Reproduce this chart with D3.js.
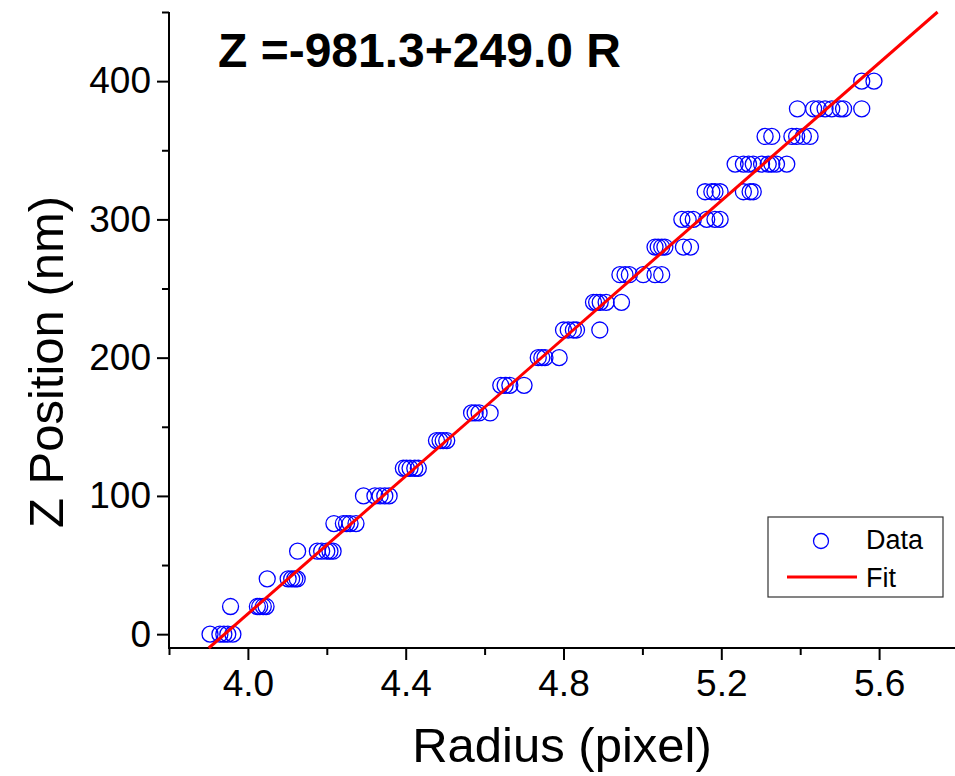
<!DOCTYPE html>
<html lang="en">
<head>
  <meta charset="utf-8" />
  <title>Z Position vs Radius</title>
  <script type="text/javascript" src="https://cdn.jsdelivr.net/npm/d3@7"></script>
  <style type="text/css">
    body { margin: 0; background: white; }
    text { font-family: "Liberation Sans", Arial, sans-serif; fill: black; }
  </style>
</head>
<body>

<script type="text/javascript">

// z steps of the calibration (nm)
var zLevels = [0, 20, 40, 60, 80, 100, 120, 140, 160, 180, 200,
               220, 240, 260, 280, 300, 320, 340, 360, 380, 400];

// measured radius (pixel) at each z step, same order as zLevels
var radius = [
  [3.904, 3.929, 3.939, 3.949, 3.962],
  [3.956, 4.024, 4.030, 4.039, 4.046],
  [4.049, 4.102, 4.111, 4.119, 4.125],
  [4.126, 4.176, 4.187, 4.200, 4.208, 4.216],
  [4.218, 4.242, 4.250, 4.259, 4.274],
  [4.293, 4.322, 4.335, 4.347, 4.358],
  [4.394, 4.402, 4.411, 4.423, 4.432],
  [4.478, 4.487, 4.495, 4.504],
  [4.567, 4.576, 4.586, 4.614],
  [4.641, 4.652, 4.664, 4.700],
  [4.736, 4.745, 4.753, 4.789],
  [4.800, 4.812, 4.825, 4.833, 4.892],
  [4.876, 4.884, 4.893, 4.908, 4.947],
  [4.943, 4.956, 4.967, 5.002, 5.032, 5.049],
  [5.032, 5.040, 5.049, 5.057, 5.104, 5.122],
  [5.100, 5.116, 5.129, 5.163, 5.184, 5.197],
  [5.159, 5.176, 5.184, 5.197, 5.256, 5.273, 5.281],
  [5.235, 5.256, 5.269, 5.281, 5.302, 5.319, 5.328, 5.340, 5.366],
  [5.311, 5.328, 5.379, 5.391, 5.408, 5.425],
  [5.393, 5.434, 5.446, 5.463, 5.480, 5.501, 5.510, 5.556],
  [5.556, 5.587]
];

// linear fit Z = a + b R
var fitA = -981.3;
var fitB = 249.0;

var xTicks = [4.0, 4.4, 4.8, 5.2, 5.6];
var xMinor = [3.8, 4.2, 4.6, 5.0, 5.4];
var yTicks = [0, 100, 200, 300, 400];
var yMinor = [50, 150, 250, 350, 450];

var w = 955;
var h = 776;

var dataset = [];
zLevels.forEach(function(z, i) {
  radius[i].forEach(function(r) { dataset.push({x: r, y: z}); });
});

var xScale = d3.scaleLinear()
               .domain([3.8, 5.8])
               .range([169, 958]);
var yScale = d3.scaleLinear()
               .domain([-10, 450])
               .range([648, 12]);

var svg = d3.select("body")
            .append("svg")
            .attr("width", w)
            .attr("height", h);

// minor ticks first, labels come from the major axis
var xMinorAxis = d3.axisBottom(xScale).tickValues(xMinor).tickSize(7).tickFormat("");
var yMinorAxis = d3.axisLeft(yScale).tickValues(yMinor).tickSize(7).tickFormat("");
var xAxis = d3.axisBottom(xScale).tickValues(xTicks).tickSize(12).tickPadding(10)
              .tickFormat(d3.format(".1f"));
var yAxis = d3.axisLeft(yScale).tickValues(yTicks).tickSize(12).tickPadding(6)
              .tickFormat(d3.format("d"));

function styleAxis(g) {
  g.select(".domain").remove();
  g.selectAll("line").attr("stroke", "black").attr("stroke-width", 2);
  g.selectAll("text").style("font-size", "37px")
   .style("font-family", "'Liberation Sans', Arial, sans-serif");
}

svg.append("g").attr("transform", "translate(0," + yScale(-10) + ")").call(xMinorAxis).call(styleAxis);
svg.append("g").attr("transform", "translate(" + xScale(3.8) + ",0)").call(yMinorAxis).call(styleAxis);
svg.append("g").attr("transform", "translate(0," + yScale(-10) + ")").call(xAxis).call(styleAxis);
svg.append("g").attr("transform", "translate(" + xScale(3.8) + ",0)").call(yAxis).call(styleAxis);

// axis lines (only left and bottom)
svg.append("line")
   .attr("x1", xScale(3.8)).attr("x2", xScale(3.8))
   .attr("y1", yScale(450)).attr("y2", yScale(-10) + 1)
   .attr("stroke", "black").attr("stroke-width", 2);
svg.append("line")
   .attr("x1", xScale(3.8) - 1).attr("x2", w)
   .attr("y1", yScale(-10)).attr("y2", yScale(-10))
   .attr("stroke", "black").attr("stroke-width", 2);

// data
svg.selectAll("circle.pt")
   .data(dataset)
   .enter()
   .append("circle")
   .attr("class", "pt")
   .attr("cx", function(d) { return xScale(d.x); })
   .attr("cy", function(d) { return yScale(d.y); })
   .attr("r", 8)
   .attr("fill", "none")
   .attr("stroke", "#0000ff")
   .attr("stroke-width", 1.3);

// fit line across the whole z range of the plot
var zEnds = yScale.domain();
svg.append("line")
   .attr("x1", xScale((zEnds[0] - fitA) / fitB))
   .attr("y1", yScale(zEnds[0]))
   .attr("x2", xScale((zEnds[1] - fitA) / fitB))
   .attr("y2", yScale(zEnds[1]))
   .attr("stroke", "#ff0000")
   .attr("stroke-width", 3);

// equation
svg.append("text")
   .attr("x", 218)
   .attr("y", 67)
   .style("font-size", "48px")
   .style("font-weight", "bold")
   .text("Z =" + fitA.toFixed(1) + "+" + fitB.toFixed(1) + " R");

// axis titles
svg.append("text")
   .attr("x", 562)
   .attr("y", 762)
   .attr("text-anchor", "middle")
   .style("font-size", "49px")
   .text("Radius (pixel)");
svg.append("text")
   .attr("transform", "translate(63,362) rotate(-90)")
   .attr("text-anchor", "middle")
   .style("font-size", "49px")
   .text("Z Position (nm)");

// legend
var lg = svg.append("g").attr("transform", "translate(768,517)");
lg.append("rect")
  .attr("width", 175).attr("height", 80)
  .attr("fill", "white").attr("stroke", "#333").attr("stroke-width", 1.2);
lg.append("circle")
  .attr("cx", 53).attr("cy", 24).attr("r", 7.5)
  .attr("fill", "none").attr("stroke", "#0000ff").attr("stroke-width", 1.3);
lg.append("line")
  .attr("x1", 19).attr("x2", 89).attr("y1", 60).attr("y2", 60)
  .attr("stroke", "#ff0000").attr("stroke-width", 3);
lg.append("text").attr("x", 98).attr("y", 32).style("font-size", "27px").text("Data");
lg.append("text").attr("x", 98).attr("y", 70).style("font-size", "27px").text("Fit");

</script>

</body>
</html>
